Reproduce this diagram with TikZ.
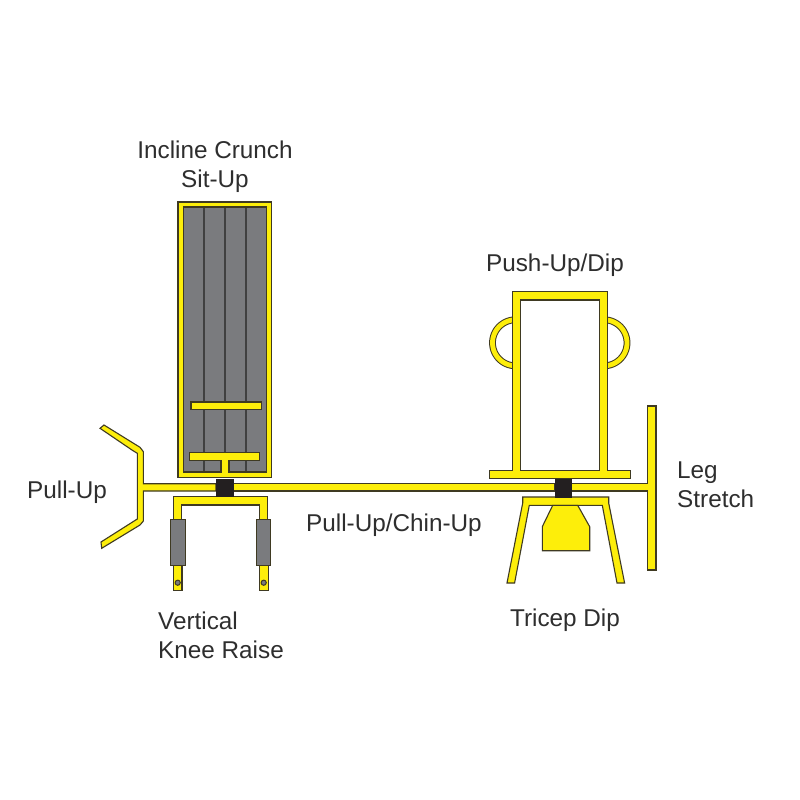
\documentclass[tikz,border=0pt]{standalone}
\usepackage{fontspec}
\setmainfont{Liberation Sans}
\definecolor{yl}{HTML}{FDEE0A}
\definecolor{dk}{HTML}{3F3A22}
\definecolor{gy}{HTML}{7A7B7E}
\definecolor{bk}{HTML}{231F20}
\definecolor{tx}{HTML}{2E2E2E}
\tikzset{
  part/.style={draw=dk,fill=yl,line width=1.1pt,line join=miter},
  padbox/.style={draw=dk,fill=gy,line width=1pt},
  block/.style={draw=bk,fill=bk,line width=.5pt},
  slat/.style={draw=black!75,line width=1.5pt},
  lab/.style={text=tx,font=\fontsize{24.3}{29}\selectfont,inner sep=0pt,align=left}
}
\begin{document}
\begin{tikzpicture}[x=1pt,y=-1pt]
\useasboundingbox[fill=white] (0,0) rectangle (800,800);
% incline bench
\fill[gy] (183,207) rectangle (267,472);
\draw[slat] (204,207) -- (204,472) (225,207) -- (225,472) (246,207) -- (246,472);
\path[part,even odd rule] (178,202) rectangle (271.5,477.5) (183.5,207) rectangle (266.7,472);
\path[part] (191,402) rectangle (261.5,409.5);
\path[part] (221,473) -- (221,460.3) -- (189.3,460.3) -- (189.3,452.3) -- (259.3,452.3) -- (259.3,460.3) -- (229,460.3) -- (229,473);
% pull-up handle and main bar, left part
\path[part] (100,428.3) -- (104,425) -- (140,447.3) -- (143.4,451.7) -- (143.4,483.7) -- (216,483.7) -- (216,491) -- (143.4,491) -- (143.4,521) -- (140,525) -- (101.7,548.3) -- (101,542) -- (137.3,519) -- (137.3,453.3) -- (132.7,450.5) -- cycle;
% main bar middle
\path[part] (233,483.7) rectangle (555,491);
% main bar right and leg stretch
\path[part] (571.7,483.7) -- (647.7,483.7) -- (647.7,406) -- (656,406) -- (656,570) -- (647.7,570) -- (647.7,491) -- (571.7,491) -- cycle;
% knee raise frame
\path[part] (173.3,519.3) -- (173.3,496.7) -- (267.7,496.7) -- (267.7,519.3) -- (259.5,519.3) -- (259.5,505) -- (181.7,505) -- (181.7,519.3) -- cycle;
\path[part] (173.3,565.7) rectangle (182,590.3);
\path[part] (259.3,565.7) rectangle (268.2,590.3);
\path[padbox] (170.7,519.3) rectangle (185,565.7);
\path[padbox] (256.3,519.3) rectangle (270.7,565.7);
\path[padbox] (177.7,582.7) circle[radius=2.6pt];
\path[padbox] (263.7,582.7) circle[radius=2.6pt];
\path[block] (216,479.3) rectangle (233,496.7);
% push-up handles
\draw[dk,line width=6.8pt] plot[domain=97:263,samples=50] ({515.5+23*cos(\x)},{342.8+23*sin(\x)});
\draw[yl,line width=4.8pt] plot[domain=97:263,samples=50] ({515.5+23*cos(\x)},{342.8+23*sin(\x)});
\draw[dk,line width=6.8pt] plot[domain=-83:83,samples=50] ({604+23*cos(\x)},{342.8+23*sin(\x)});
\draw[yl,line width=4.8pt] plot[domain=-83:83,samples=50] ({604+23*cos(\x)},{342.8+23*sin(\x)});
% push-up frame and base
\path[part,even odd rule] (489.7,470.7) -- (512.3,470.7) -- (512.3,291.5) -- (607.3,291.5) -- (607.3,470.7) -- (630.3,470.7) -- (630.3,478.7) -- (489.7,478.7) -- cycle (520.7,300) rectangle (599.3,470.7);
% tricep dip
\path[part] (522.7,497) -- (608.7,497) -- (608.7,503) -- (624.6,583) -- (617,583) -- (602.3,505.3) -- (529.3,505.3) -- (514.6,583) -- (507,583) -- (522.7,503) -- cycle;
\path[part] (552.7,505.3) -- (577.7,505.3) -- (589.7,526.7) -- (589.7,550.7) -- (542.3,550.7) -- (542.3,526.7) -- cycle;
\path[block] (555,479.3) rectangle (571.7,497);
% labels
\node[lab,align=center] (incline) at (215,167) {Incline Crunch\\Sit-Up};
\node[lab] (pushup) at (555,265.5) {Push-Up/Dip};
\node[lab,anchor=west] (pullup) at (27,492) {Pull-Up};
\node[lab,anchor=west] (chinup) at (306,525.5) {Pull-Up/Chin-Up};
\node[lab,anchor=west] (leg) at (677,485) {Leg\\Stretch};
\node[lab,anchor=west] (knee) at (158,635) {Vertical\\Knee Raise};
\node[lab] (tricep) at (565,620.5) {Tricep Dip};
\end{tikzpicture}
\end{document}
